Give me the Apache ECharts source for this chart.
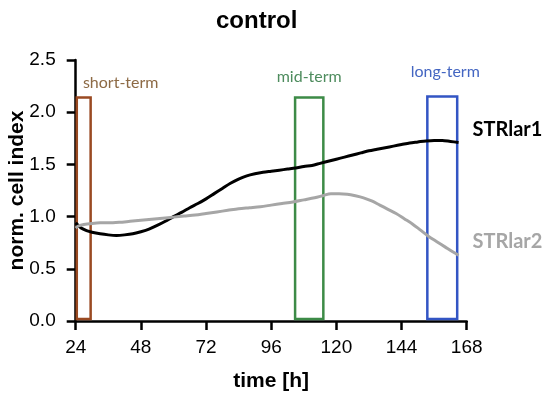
<!DOCTYPE html>
<html>
<head>
<meta charset="utf-8">
<script src="https://cdn.jsdelivr.net/npm/echarts@6/dist/echarts.min.js"></script>
<style>html,body{margin:0;padding:0;background:#fff;}#c{width:550px;height:399px;}</style>
</head>
<body>
<div id="c"></div>
<script>
// ---- data ----
const xTicks = [24, 48, 72, 96, 120, 144, 168];
const yTicks = [0.0, 0.5, 1.0, 1.5, 2.0, 2.5];

const str1Hours = [24,26,28,30,33,36,39,42,45,48,51,54,57,60,63,66,69,72,75,78,81,84,87,90,93,96,99,102,105,108,111,114,117,120,123,126,129,132,135,138,141,144,147,150,153,156,159,162,165];
const str1Values = [0.94,0.89,0.865,0.85,0.835,0.825,0.82,0.825,0.835,0.855,0.88,0.915,0.955,1.0,1.04,1.085,1.125,1.17,1.22,1.27,1.32,1.36,1.39,1.41,1.425,1.435,1.445,1.455,1.465,1.48,1.49,1.51,1.53,1.55,1.57,1.59,1.61,1.63,1.645,1.66,1.675,1.69,1.705,1.715,1.725,1.73,1.73,1.72,1.71];

const str2Hours = [24,25,27,30,33,36,40,44,48,52,56,60,64,68,72,76,80,84,88,92,96,100,104,108,112,115,118,121,124,127,130,133,136,139,142,145,148,151,154,157,160,163,165];
const str2Values = [0.89,0.91,0.925,0.935,0.94,0.94,0.945,0.955,0.965,0.975,0.985,0.995,1.005,1.015,1.03,1.045,1.06,1.075,1.085,1.095,1.11,1.125,1.14,1.16,1.18,1.2,1.22,1.22,1.215,1.2,1.18,1.15,1.11,1.07,1.03,0.98,0.93,0.87,0.81,0.76,0.71,0.66,0.63];

const seriesNames = ['STRlar1', 'STRlar2'];

const phaseNames = ['short-term', 'mid-term', 'long-term'];
const phaseStart = [24.4, 104.8, 153.5];
const phaseEnd = [29.5, 115.2, 164.5];
const phaseBottom = [0.02, 0.02, 0.02];
const phaseTop = [2.14, 2.14, 2.15];

// ---- styles ----
const phaseBorder = ['#9a4a22', '#3d8b47', '#3355c4'];
const phaseLabelColor = ['#8d6a45', '#4e8c5e', '#4466c2'];
const phaseLabelOffset = [[37, 0], [0, -6], [3, -10]];

const toPairs = (xs, ys) => xs.map((x, i) => [x, ys[i]]);

const markData = phaseNames.map((n, i) => [
  {
    name: n,
    xAxis: phaseStart[i], yAxis: phaseBottom[i],
    itemStyle: { color: 'rgba(0,0,0,0)', borderColor: phaseBorder[i], borderWidth: 2.5 },
    label: { show: true, position: 'top', color: phaseLabelColor[i], offset: phaseLabelOffset[i],
             fontFamily: 'Lato', fontSize: 16, distance: 5 }
  },
  { xAxis: phaseEnd[i], yAxis: phaseTop[i] }
]);

const axisFont = 'Liberation Sans';
const chart = echarts.init(document.getElementById('c'), null, { renderer: 'canvas' });
chart.setOption({
  animation: false,
  backgroundColor: '#fff',
  title: {
    text: 'control', left: 211, top: 4,
    textStyle: { fontFamily: axisFont, fontSize: 24, fontWeight: 'bold', color: '#000' }
  },
  grid: { left: 75.7, right: 83.3, top: 60, bottom: 78, containLabel: false, outerBoundsMode: 'none' },
  xAxis: {
    type: 'value', min: xTicks[0], max: xTicks[xTicks.length - 1], interval: 24,
    name: 'time [h]', nameLocation: 'middle', nameGap: 50, nameMoveOverlap: false,
    nameTextStyle: { fontFamily: axisFont, fontSize: 21, fontWeight: 'bold', color: '#000' },
    axisLine: { show: true, lineStyle: { color: '#000', width: 2.5 } },
    axisTick: { show: true, length: 9, lineStyle: { color: '#000', width: 2.5 } },
    axisLabel: { fontFamily: axisFont, fontSize: 19, color: '#000', margin: 17 },
    splitLine: { show: false }
  },
  yAxis: {
    type: 'value', min: yTicks[0], max: yTicks[yTicks.length - 1], interval: 0.5,
    name: 'norm. cell index', nameLocation: 'middle', nameGap: 48, nameRotate: 90, nameMoveOverlap: false,
    nameTextStyle: { fontFamily: axisFont, fontSize: 21, fontWeight: 'bold', color: '#000' },
    axisLine: { show: true, lineStyle: { color: '#000', width: 2.5 } },
    axisTick: { show: true, length: 9, lineStyle: { color: '#000', width: 2.5 } },
    axisLabel: { fontFamily: axisFont, fontSize: 19, color: '#000', margin: 20,
                 formatter: v => v.toFixed(1) },
    splitLine: { show: false }
  },
  series: [
    {
      name: seriesNames[0], type: 'line', data: toPairs(str1Hours, str1Values),
      showSymbol: false, smooth: 0.3, z: 3,
      lineStyle: { color: '#000', width: 3 },
      endLabel: { show: true, formatter: p => p.seriesName, offset: [6, -13],
                  fontFamily: 'Lato', fontWeight: 'bold', fontSize: 20, color: '#000' },
      markArea: { silent: true, z: 2, data: markData }
    },
    {
      name: seriesNames[1], type: 'line', data: toPairs(str2Hours, str2Values),
      showSymbol: false, smooth: 0.3, z: 3,
      lineStyle: { color: '#a6a6a6', width: 3 },
      endLabel: { show: true, formatter: p => p.seriesName, offset: [6, -14],
                  fontFamily: 'Lato', fontWeight: 'bold', fontSize: 20, color: '#a6a6a6' }
    }
  ]
});
</script>
</body>
</html>
